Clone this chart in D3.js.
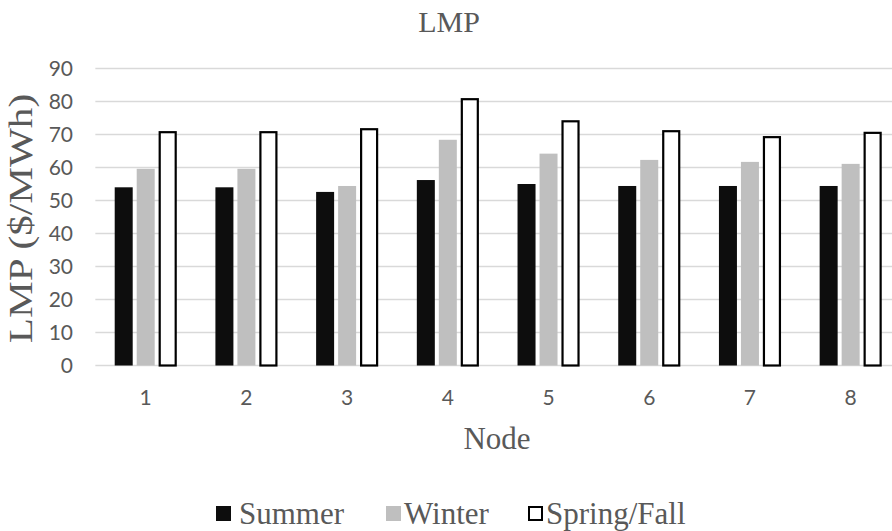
<!DOCTYPE html>
<html>
<head>
<meta charset="utf-8">
<script src="https://cdn.jsdelivr.net/npm/d3@7"></script>
<style>
  html, body { margin: 0; padding: 0; background: #fff; overflow: hidden; }
  svg { display: block; }
</style>
</head>
<body>
<svg id="chart" width="892" height="531"></svg>
<script>
// Locational marginal price per node, by season
const nodes = ["1", "2", "3", "4", "5", "6", "7", "8"];
const seriesNames = ["Summer", "Winter", "Spring/Fall"];
const summer = [54.0, 54.0, 52.6, 56.2, 55.0, 54.4, 54.4, 54.4];
const winter = [59.6, 59.6, 54.4, 68.4, 64.2, 62.3, 61.7, 61.1];
const springFall = [70.7, 70.7, 71.6, 80.7, 74.0, 71.0, 69.2, 70.5];
const yTicks = [0, 10, 20, 30, 40, 50, 60, 70, 80, 90];

const seriesValues = [summer, winter, springFall];
const fills = ["#0d0d0d", "#bfbfbf", "#ffffff"];
const strokes = ["none", "none", "#000000"];

const svg = d3.select("#chart");
const textColor = "#595959";
const serif = "'Liberation Serif', 'Times New Roman', serif";
const sans = "Lato, Carlito, Calibri, sans-serif";

const plot = { left: 95.35, right: 901, top: 68.5, bottom: 365.5 };

const x0 = d3.scaleBand()
  .domain(nodes)
  .range([plot.left, plot.right])
  .paddingInner(0.305)
  .paddingOuter(0.1525);

const x1 = d3.scaleBand()
  .domain(seriesNames)
  .range([0, x0.bandwidth()])
  .paddingInner(4 / 22)
  .paddingOuter(4 / 22);

const y = d3.scaleLinear().domain([0, 90]).range([plot.bottom, plot.top]);

// horizontal gridlines
svg.append("g")
  .selectAll("line")
  .data(yTicks)
  .join("line")
  .attr("x1", plot.left)
  .attr("x2", plot.right)
  .attr("y1", d => y(d))
  .attr("y2", d => y(d))
  .attr("stroke", "#d9d9d9")
  .attr("stroke-width", 1.5);

// y tick labels
svg.append("g")
  .selectAll("text")
  .data(yTicks)
  .join("text")
  .attr("x", 73)
  .attr("y", d => y(d))
  .attr("dy", "0.36em")
  .attr("text-anchor", "end")
  .attr("font-family", sans)
  .attr("font-size", 21)
  .attr("fill", textColor)
  .text(d => d);

// bars
const rows = nodes.map((n, i) => ({ node: n, vals: seriesNames.map((s, k) => ({ s, k, v: seriesValues[k][i] })) }));

const groups = svg.append("g")
  .selectAll("g")
  .data(rows)
  .join("g")
  .attr("transform", d => `translate(${x0(d.node)},0)`);

groups.selectAll("rect")
  .data(d => d.vals)
  .join("rect")
  .attr("x", d => x1(d.s) + (d.k === 2 ? 1 : 0))
  .attr("width", d => x1.bandwidth() - (d.k === 2 ? 2 : 0))
  .attr("y", d => y(d.v))
  .attr("height", d => y(0) - y(d.v))
  .attr("fill", d => fills[d.k])
  .attr("stroke", d => strokes[d.k])
  .attr("stroke-width", 2.2);

// x tick labels
svg.append("g")
  .selectAll("text")
  .data(nodes)
  .join("text")
  .attr("x", d => x0(d) + x0.bandwidth() / 2)
  .attr("y", 405)
  .attr("text-anchor", "middle")
  .attr("font-family", sans)
  .attr("font-size", 21)
  .attr("fill", textColor)
  .text(d => d);

// titles
svg.append("text")
  .attr("x", 449)
  .attr("y", 32)
  .attr("text-anchor", "middle")
  .attr("font-family", serif)
  .attr("font-size", 30)
  .attr("fill", textColor)
  .text("LMP");

svg.append("text")
  .attr("x", 497)
  .attr("y", 449)
  .attr("text-anchor", "middle")
  .attr("font-family", serif)
  .attr("font-size", 31)
  .attr("fill", textColor)
  .text("Node");

// vertical axis title, drawn a little elongated along its reading direction
svg.append("text")
  .attr("transform", `translate(32,218.5) rotate(-90) scale(1.25,1)`)
  .attr("text-anchor", "middle")
  .attr("font-family", serif)
  .attr("font-size", 33)
  .attr("fill", textColor)
  .text("LMP ($/MWh)");

// legend
const legendX = [216, 386, 528];
const legend = svg.append("g")
  .selectAll("g")
  .data(seriesNames)
  .join("g")
  .attr("transform", (d, i) => `translate(${legendX[i]},0)`);

legend.append("rect")
  .attr("x", (d, i) => i === 2 ? 1 : 0)
  .attr("y", (d, i) => i === 2 ? 507 : 506)
  .attr("width", (d, i) => i === 2 ? 13 : 15)
  .attr("height", (d, i) => i === 2 ? 13 : 15)
  .attr("fill", (d, i) => fills[i])
  .attr("stroke", (d, i) => strokes[i])
  .attr("stroke-width", 2);

legend.append("text")
  .attr("x", (d, i) => i === 0 ? 23 : 18)
  .attr("y", 524)
  .attr("font-family", serif)
  .attr("font-size", 31)
  .attr("fill", textColor)
  .text(d => d);
</script>
</body>
</html>
